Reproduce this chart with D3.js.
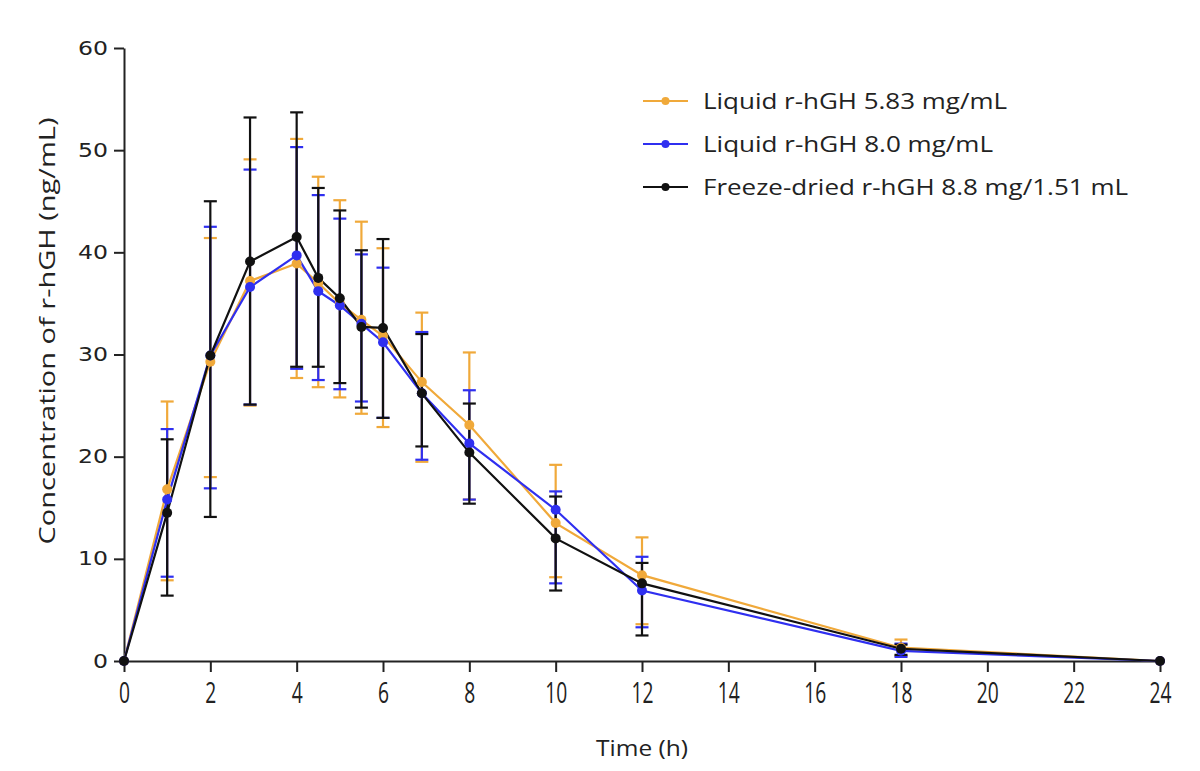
<!DOCTYPE html>
<html>
<head>
<meta charset="utf-8">
<script src="https://cdn.jsdelivr.net/npm/d3@7"></script>
<style>
  body { margin: 0; background: #fff; }
  svg { display: block; }
</style>
</head>
<body>
<script>
// Sampling times (h)
var times = [0, 1, 2, 2.92, 4, 4.5, 5, 5.5, 6, 6.9, 8, 10, 12, 18, 24];

// Liquid r-hGH 5.83 mg/mL
var liq583_mean = [0, 16.8, 29.3, 37.2, 38.9, 37.0, 35.0, 33.4, 31.8, 27.3, 23.1, 13.5, 8.4, 1.3, 0];
var liq583_high = [0, 25.4, 41.4, 49.1, 51.1, 47.4, 45.1, 43.0, 40.4, 34.1, 30.2, 19.2, 12.1, 2.1, 0];
var liq583_low  = [0, 7.9, 18.0, 25.0, 27.7, 26.8, 25.8, 24.2, 22.9, 19.5, 15.8, 8.2, 3.6, 0.5, 0];

// Liquid r-hGH 8.0 mg/mL
var liq80_mean = [0, 15.8, 29.9, 36.6, 39.7, 36.2, 34.8, 33.0, 31.2, 26.2, 21.3, 14.8, 6.9, 1.0, 0];
var liq80_high = [0, 22.7, 42.5, 48.1, 50.3, 45.6, 43.3, 39.8, 38.5, 32.2, 26.5, 16.6, 10.2, 1.7, 0];
var liq80_low  = [0, 8.25, 16.9, 25.1, 28.6, 27.5, 26.6, 25.4, 23.8, 19.7, 15.8, 7.6, 3.3, 0.4, 0];

// Freeze-dried r-hGH 8.8 mg/1.51 mL
var fd_mean = [0, 14.5, 29.9, 39.1, 41.5, 37.5, 35.5, 32.7, 32.6, 26.2, 20.4, 12.0, 7.6, 1.2, 0];
var fd_high = [0, 21.7, 45.0, 53.2, 53.7, 46.3, 44.1, 40.2, 41.3, 32.0, 25.2, 16.1, 9.6, 1.6, 0];
var fd_low  = [0, 6.4, 14.1, 25.1, 28.8, 28.8, 27.2, 24.8, 23.8, 21.0, 15.4, 6.9, 2.5, 0.6, 0];

var series_names = ['Liquid r-hGH 5.83 mg/mL', 'Liquid r-hGH 8.0 mg/mL', 'Freeze-dried r-hGH 8.8 mg/1.51 mL'];
var x_ticks = [0, 2, 4, 6, 8, 10, 12, 14, 16, 18, 20, 22, 24];
var y_ticks = [0, 10, 20, 30, 40, 50, 60];

// ================================================================================================
var width = 1200, height = 771;
var colors = ['#f0a93a', '#2f2ff0', '#111111'];
var legend_lengths = [304, 290, 425];

var series = [
    { name: series_names[0], mean: liq583_mean, high: liq583_high, low: liq583_low },
    { name: series_names[1], mean: liq80_mean, high: liq80_high, low: liq80_low },
    { name: series_names[2], mean: fd_mean, high: fd_high, low: fd_low }
];
series.forEach(function (s, i) {
    s.color = colors[i];
    s.points = times.map(function (t, j) {
        return { t: t, v: s.mean[j], hi: s.high[j], lo: s.low[j] };
    });
});

var x = d3.scaleLinear().domain([0, 24]).range([124, 1160]);
var y = d3.scaleLinear().domain([0, 60]).range([661, 48]);

var svg = d3.select('body').append('svg')
    .attr('width', width)
    .attr('height', height);

// Axes
var x_axis = svg.append('g')
    .attr('transform', 'translate(0,' + y(0) + ')')
    .call(d3.axisBottom(x).tickValues(x_ticks).tickSize(11).tickPadding(10).tickSizeOuter(0));

var y_axis = svg.append('g')
    .attr('transform', 'translate(' + x(0) + ',0)')
    .call(d3.axisLeft(y).tickValues(y_ticks).tickSize(10).tickPadding(6).tickSizeOuter(0));

[x_axis, y_axis].forEach(function (a) {
    a.select('.domain').attr('stroke', '#222').attr('stroke-width', 2);
    a.selectAll('.tick line').attr('stroke', '#222').attr('stroke-width', 2);
});

x_axis.selectAll('.tick text')
    .attr('font-family', 'Open Sans')
    .attr('font-size', 29)
    .attr('fill', '#222')
    .attr('textLength', function (d) { return String(d).length * 11; })
    .attr('lengthAdjust', 'spacingAndGlyphs');

y_axis.selectAll('.tick text')
    .attr('font-family', 'DejaVu Sans')
    .attr('font-size', 19)
    .attr('fill', '#222')
    .attr('textLength', function (d) { return String(d).length * 15; })
    .attr('lengthAdjust', 'spacingAndGlyphs');

// Axis titles
svg.append('text')
    .attr('x', 642)
    .attr('y', 756)
    .attr('text-anchor', 'middle')
    .attr('font-family', 'Open Sans')
    .attr('font-size', 21)
    .attr('fill', '#222')
    .attr('textLength', 92)
    .attr('lengthAdjust', 'spacingAndGlyphs')
    .text('Time (h)');

svg.append('text')
    .attr('transform', 'translate(55,331) rotate(-90)')
    .attr('text-anchor', 'middle')
    .attr('font-family', 'Open Sans')
    .attr('font-size', 21)
    .attr('fill', '#222')
    .attr('textLength', 427)
    .attr('lengthAdjust', 'spacingAndGlyphs')
    .text('Concentration of r-hGH (ng/mL)');

// Error bars
var cap = 6.5;
series.forEach(function (s) {
    var g = svg.append('g').attr('stroke', s.color).attr('stroke-width', 2.2);
    var pts = s.points.filter(function (p) { return p.hi > p.lo; });
    g.selectAll('line.stem').data(pts).enter().append('line')
        .attr('x1', function (d) { return x(d.t); })
        .attr('x2', function (d) { return x(d.t); })
        .attr('y1', function (d) { return y(d.hi); })
        .attr('y2', function (d) { return y(d.lo); });
    g.selectAll('line.hi').data(pts).enter().append('line')
        .attr('x1', function (d) { return x(d.t) - cap; })
        .attr('x2', function (d) { return x(d.t) + cap; })
        .attr('y1', function (d) { return y(d.hi); })
        .attr('y2', function (d) { return y(d.hi); });
    g.selectAll('line.lo').data(pts).enter().append('line')
        .attr('x1', function (d) { return x(d.t) - cap; })
        .attr('x2', function (d) { return x(d.t) + cap; })
        .attr('y1', function (d) { return y(d.lo); })
        .attr('y2', function (d) { return y(d.lo); });
});

// Lines
var line = d3.line()
    .x(function (d) { return x(d.t); })
    .y(function (d) { return y(d.v); });

series.forEach(function (s) {
    svg.append('path')
        .datum(s.points)
        .attr('fill', 'none')
        .attr('stroke', s.color)
        .attr('stroke-width', 2.2)
        .attr('d', line);
});

// Points
series.forEach(function (s) {
    svg.append('g').selectAll('circle')
        .data(s.points)
        .enter()
        .append('circle')
        .attr('cx', function (d) { return x(d.t); })
        .attr('cy', function (d) { return y(d.v); })
        .attr('r', 5)
        .attr('fill', s.color);
});

// Legend
var legend = svg.append('g');
series.forEach(function (s, i) {
    var ly = 101 + i * 43;
    legend.append('line')
        .attr('x1', 643).attr('x2', 688)
        .attr('y1', ly).attr('y2', ly)
        .attr('stroke', s.color)
        .attr('stroke-width', 2.2);
    legend.append('circle')
        .attr('cx', 665.5).attr('cy', ly)
        .attr('r', 4)
        .attr('fill', s.color);
    legend.append('text')
        .attr('x', 703)
        .attr('y', ly + 8)
        .attr('font-family', 'Open Sans')
        .attr('font-size', 22)
        .attr('fill', '#222')
        .attr('textLength', legend_lengths[i])
        .attr('lengthAdjust', 'spacingAndGlyphs')
        .text(s.name);
});
</script>
</body>
</html>
